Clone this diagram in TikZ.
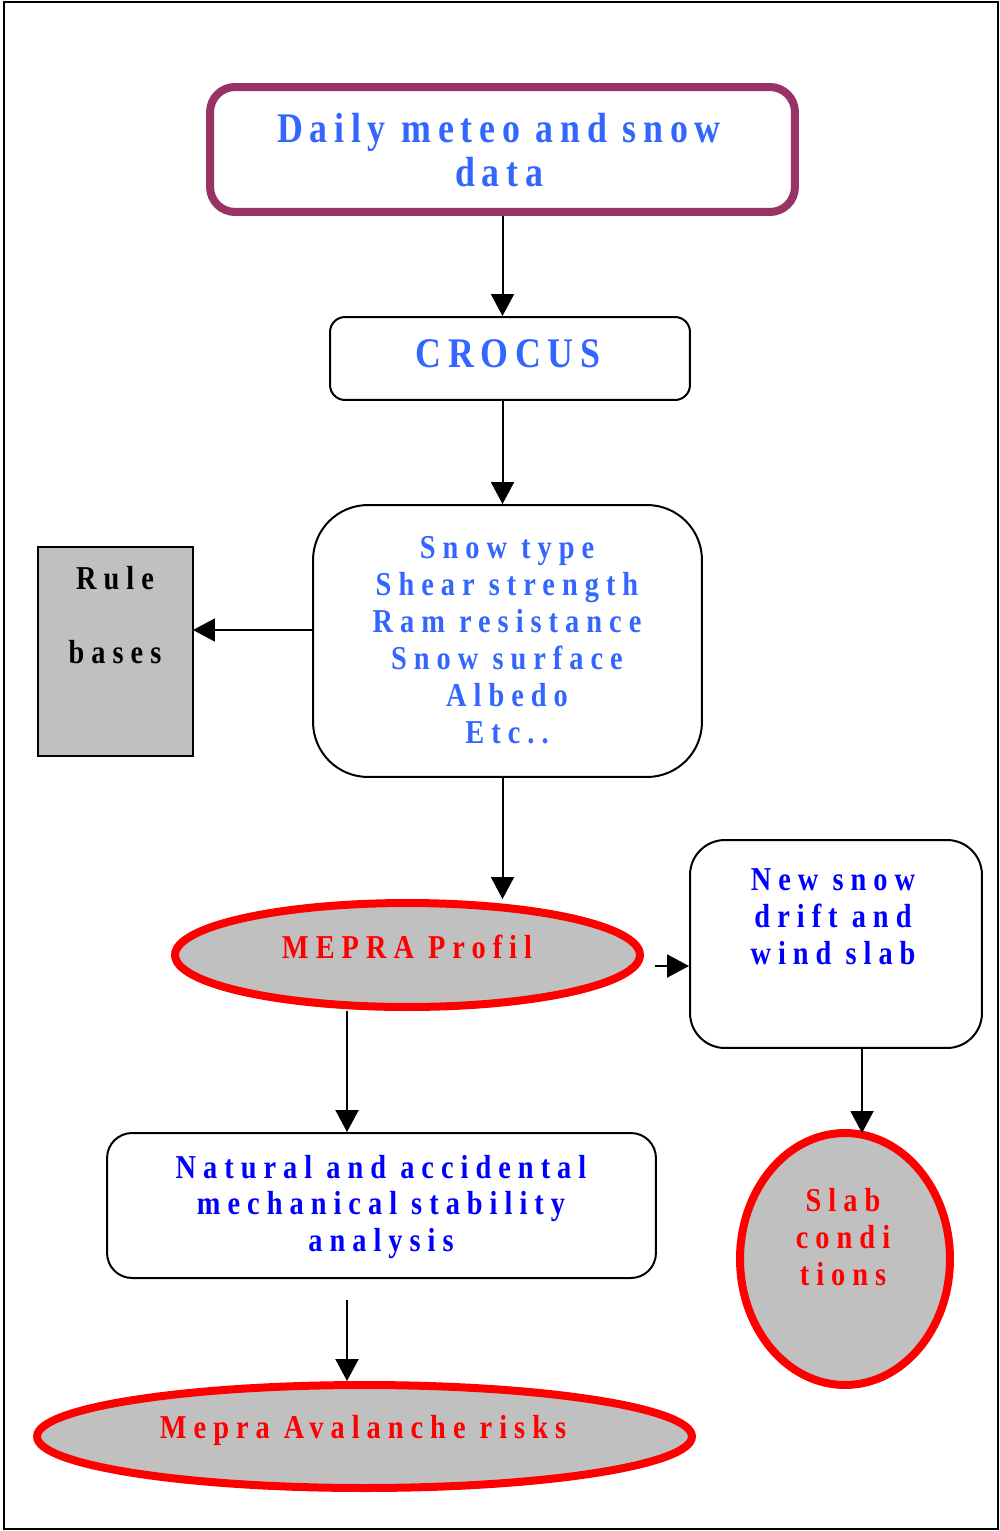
\documentclass[tikz,border=0pt]{standalone}
\usepackage{fontspec}
\setmainfont{Liberation Serif}[FakeStretch=0.85,LetterSpace=21]
\newfontfamily\bigfont{Liberation Serif}[FakeStretch=0.85,LetterSpace=16]
\usepackage{xcolor}
\usetikzlibrary{arrows.meta, shapes.geometric}
\definecolor{plum}{HTML}{993366}
\definecolor{lightblue}{HTML}{3366FF}
\definecolor{boxgray}{HTML}{C0C0C0}

\begin{document}
\begin{tikzpicture}[x=0.02cm, y=-0.02cm,
	arr/.style={line width=0.04cm, -{Triangle[length=0.44cm, width=0.46cm]}},
	rbox/.style={draw, line width=0.04cm, fill=white, inner sep=0pt},
	oval/.style={ellipse, draw=red, line width=0.16cm, fill=boxgray, inner sep=0pt},
	big/.style={font=\bigfont\fontsize{24}{25}\selectfont\bfseries, align=center},
	txt/.style={font=\fontsize{19}{21}\selectfont\bfseries, align=center}]
				\useasboundingbox (0,0) rectangle (1000,1531);
				\draw[line width=0.03cm] (4,2) rectangle (998,1529);
				\node[rbox, draw=plum, line width=0.16cm, rounded corners=0.5cm, minimum width=11.7cm, minimum height=2.5cm] (data) at (502.5,149.5) {};
				\node[big, text=lightblue] (dataT) at (499,150) {Daily meteo and snow\\data};
				\node[rbox, rounded corners=0.3cm, minimum width=7.2cm, minimum height=1.66cm] (crocus) at (510,358.5) {};
				\node[big, text=lightblue] (crocusT) at (508,354) {CROCUS};
				\node[rbox, rounded corners=1.1cm, minimum width=7.78cm, minimum height=5.44cm] (props) at (507.5,641) {};
				\node[txt, text=lightblue] (propsT) at (507,640) {Snow type\\Shear strength\\Ram resistance\\Snow surface\\Albedo\\Etc..};
				\node[rbox, fill=boxgray, minimum width=3.1cm, minimum height=4.18cm] (rule) at (115.5,651.5) {};
				\node[txt] (ruleT) at (115,615) {Rule\\[21pt]bases};
				\node[oval, minimum width=9.3cm, minimum height=2.08cm] (mepra) at (407.5,955) {};
				\node[txt, text=red] (mepraT) at (407,947) {MEPRA Profil};
				\node[rbox, rounded corners=0.7cm, minimum width=5.84cm, minimum height=4.16cm] (snow) at (836,944) {};
				\node[txt, text=blue] (snowT) at (833,917) {New snow\\drift and\\wind slab};
				\node[oval, minimum width=4.2cm, minimum height=5.04cm] (slab) at (845,1259) {};
				\node[txt, text=red] (slabT) at (843,1237) {Slab\\condi\\tions};
				\node[rbox, rounded corners=0.5cm, minimum width=10.98cm, minimum height=2.9cm] (natural) at (381.5,1205.5) {};
				\node[txt, text=blue] (naturalT) at (381,1207) {Natural and accidental\\mechanical stability\\analysis};
				\node[oval, minimum width=13.1cm, minimum height=2.06cm] (risks) at (364.5,1436.5) {};
				\node[txt, text=red] (risksT) at (363,1430) {Mepra Avalanche risks};
				\coordinate (ruleIn) at (193,630);
				\coordinate (stub) at (655,966);
				\coordinate (slabIn) at (862,1133);
				\coordinate (riskFrom) at (347,1300);
				\draw[arr] (data.south) -- (data.south |- crocus.north);
				\draw[arr] (data.south |- crocus.south) -- (data.south |- props.north);
				\draw[arr] (data.south |- props.south) -- (data.south |- mepra.north);
				\draw[arr] (props.west |- ruleIn) -- (ruleIn);
				\draw[arr] (stub) -- (stub -| snow.west);
				\draw[arr] (snow.south -| slabIn) -- (slabIn);
				\draw[arr] (mepra.south -| riskFrom) -- (natural.north -| riskFrom);
				\draw[arr] (riskFrom) -- (risks.north -| riskFrom);
			\end{tikzpicture}
\end{document}
